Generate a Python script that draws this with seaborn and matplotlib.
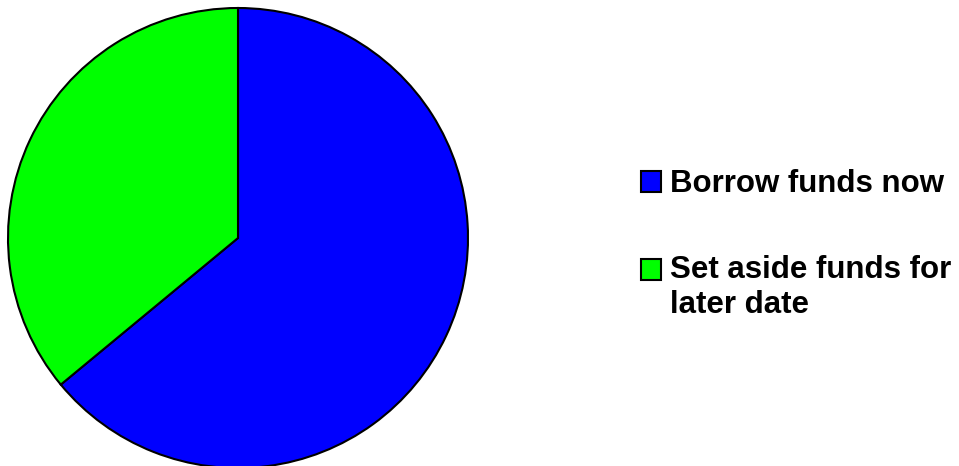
#%% Library Imports
import seaborn as sns
import matplotlib.pyplot as plt

#%% Data
labels = ['Borrow funds now', 'Set aside funds for\nlater date']
shares = [64, 36]
colors = ['#0000ff', '#00ff00']

#%% Pie chart
sns.set_style("white")
plt.rcParams['font.family'] = ['Liberation Sans', 'DejaVu Sans']

fig = plt.figure(figsize=(9.59, 4.66), dpi=100)
ax = fig.add_axes([8 / 959, -2 / 466, 460 / 959, 460 / 466])

wedges, _ = ax.pie(shares, colors=colors, startangle=90, counterclock=False,
                   wedgeprops={'edgecolor': 'black', 'linewidth': 1.5})
ax.set_xlim(-1.0, 1.0)
ax.set_ylim(-1.0, 1.0)
ax.set_aspect('equal')

leg = fig.legend(wedges, labels, loc='upper left', bbox_to_anchor=(613 / 959, 1 - 141 / 466),
                 frameon=False, prop={'size': 22.5, 'weight': 'bold'}, labelcolor='black',
                 handlelength=0.65, handleheight=0.65, handletextpad=0.28,
                 labelspacing=1.8)
for h in leg.legend_handles:
    h.set_edgecolor('black')
    h.set_linewidth(1.5)
# square sits next to the first line of the wrapped label
leg.legend_handles[1].set_y(leg.legend_handles[1].get_y() + 13.7)

fig.savefig('out.png', dpi=100)
